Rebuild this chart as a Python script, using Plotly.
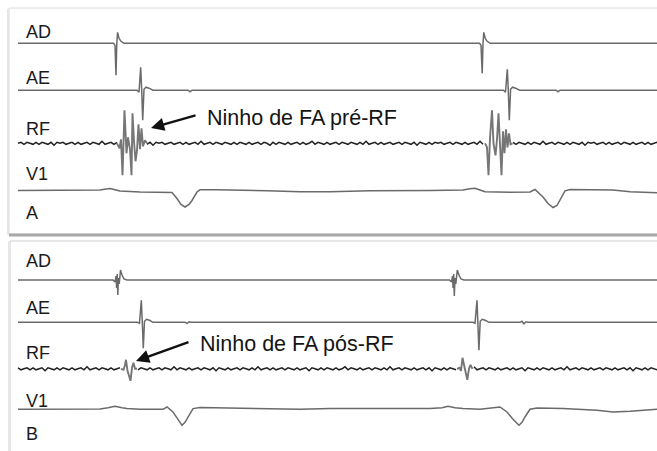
import glob
import plotly.graph_objects as go

# ---------------- DATA ----------------
# time axis: screen-time units (0..657), amplitude: deflection (up = positive)
LABELS_A = ["AD", "AE", "RF", "V1", "A"]
LABELS_B = ["AD", "AE", "RF", "V1", "B"]
NOTE_A = "Ninho de FA pré-RF"
NOTE_B = "Ninho de FA pós-RF"

# ---- Panel A (pre-RF) ----
AD_A_T = [18, 113.5, 115, 116, 116.8, 117.6, 119, 121, 124,
          479.5, 481, 482.2, 483, 483.8, 485.2, 487.2, 490.2, 657]
AD_A_V = [0, 0, -2, -32, 0, 11, 5, 2, 0,
          0, -2, -30, 0, 11, 5, 2, 0, 0]

AE_A_T = [18, 137, 139, 140.7, 141.7, 142.7, 144, 146, 149, 153, 188, 190, 192,
          503.5, 505.5, 507.3, 508.3, 509.3, 510.6, 512.6, 515.6, 519.6, 556, 558, 560, 657]
AE_A_V = [0, 0, -2, 23, 0, -30, 1, 3, 2, 0, 0, -1.5, 0,
          0, -2, 21, 0, -30, 1, 3, 2, 0, 0, -1.5, 0, 0]

RF_A_C1_T = [117, 119.5, 121, 122.5, 124.5, 126.5, 128, 130, 131.5, 132.5, 134,
             135.5, 137, 138.5, 140, 141.5, 143, 145, 147]
RF_A_C1_V = [0, -5, 4, -32, 33, -10, 6, -6, -32, 30, 2, -18, -7, 19, -6, 15, -3, 3, 0]
RF_A_C2_T = [485, 487, 488.5, 490, 492, 493.5, 495.5, 497, 498.5, 500, 501.5,
             503, 504.5, 506, 507.5, 509, 510.5, 512.5]
RF_A_C2_V = [0, -4, -32, 5, 33, 0, -12, 4, 30, -8, -32, 12, -10, 14, -4, 10, -1, 0]
RF_A_NOISE = [
    0, 1, -1, 1, 0, -1, 1, -1, 1, 0, -1, 1, -2, 1, 0, 1, -1, 0, 1, -1,
    1, -1, 0, 1, -1, 1, 0, -1, 2, -1, 0, 1, -1, 1, -1, 0, 1, 0, -1, 1,
    -1, 1, 0, -1, 1, -2, 1, 0, 1, -1, 0, 1, -1, 0, 1, -1, 1, -1, 0, 1,
    -1, 2, -1, 0, 1, -1, 1, 0, -1, 1, 0, -1, 1, -1, 1, 0, -1, 1, -1, 0,
    1, -1, 1, 0, -2, 1, -1, 1, 0, -1, 1, -1, 0, 1, -1, 1, -1, 0, 2, -1,
    1, 0, -1, 1, -1, 0, 1, -1, 1, 0, -1, 1, 0, -1, 1, -1, 2, -1, 0, 1,
    -1, 1, -1, 0, 1, -1, 0, 1, -1, 1, 0, -1, 1, -2, 1, 0, -1, 1, -1, 1,
    0, 1, -1, 0, 1, -1, 1, 0, -1, 1, -1, 0, 1, -1, 2, -1, 0, 1, -1, 1,
    0, -1, 1, -1, 0, 1, -1, 1, 0, -1, 1, -1, 1, 0, -1, 2, -1, 0, 1, -1,
    1, 0, -1, 1, -1, 1, 0, -1, 1, -2, 1, 0, 1, -1, 0, 1, -1, 1, -1, 0,
    1, -1, 1, 0, -1, 1, -1, 0, 1, -1, 1, -1, 0, 1, -1, 1, 0, -1, 1, 0]

V1_A_T = [18, 60, 100, 106, 110, 114, 120, 140, 165, 172, 177, 181, 185, 189, 192,
          197, 200, 217, 267, 300, 330, 370, 430, 463, 470, 475, 480, 485, 510, 530,
          535, 543, 548, 553, 557, 560, 565, 570, 613, 630, 657]
V1_A_V = [0, 0, 0.5, 1.5, 2, 1, -0.5, -1.5, -1.5, -2, -8, -14, -16.5, -14, -10,
          -1.5, 0.7, 0.7, -0.3, -1.3, -1.2, -0.3, 0, 0.5, 1.8, 2.3, 0.5, -1.2, -1.7, -1.5,
          1, -6.5, -13, -17, -15, -9, -0.3, 1, 0.5, -1.2, -2.3]

# ---- Panel B (post-RF) ----
AD_B_T = [18, 113, 115, 116, 116.6, 117.2, 117.8, 118.4, 119.2, 120.5, 122, 124, 127,
          449.5, 451.5, 452.5, 453.1, 453.7, 454.3, 455, 455.8, 457.3, 459, 461, 464, 657]
AD_B_V = [0, 0, -2, 4, -8, 6, -15, 2, -4, 10, 5, 1, 0,
          0, -2, 4, -8, 6, -16, 2, -4, 10, 5, 1, 0, 0]

AE_B_T = [18, 137.5, 139.5, 141.3, 142.3, 143.3, 144.5, 146.5, 149.5, 153, 185, 187, 189, 191,
          473, 475, 477, 478, 478.9, 480.2, 482.2, 485.2, 489, 520, 522, 524, 526, 528, 657]
AE_B_V = [0, 0, -1, 22, 0, -26, 1, 3, 2, 0, 0, -1, 0.5, 0,
          0, -1, 22, 0, -28, 1, 3, 2, 0, 0, 1, -1.5, 0.5, 0, 0]

RF_B_C1_T = [121, 123.5, 124.8, 126, 127.5, 129, 130.5, 132, 133.5, 135, 137]
RF_B_C1_V = [0, -1, 3, 9, -2, -8, -12, 1, 6, 0, 0]
RF_B_C2_T = [457, 459.5, 461, 462.5, 464, 465.5, 467.3, 469, 470.5, 472.5]
RF_B_C2_V = [0, 1, -2, 11, 4, -3, -11, 0, 4, 0]
RF_B_NOISE = [
    1, -1, 0, 1, -1, 1, -1, 0, 1, -2, 1, 0, -1, 1, -1, 1, 0, -1, 1, -1,
    0, 1, -1, 2, -1, 0, 1, -1, 1, 0, -1, 1, -1, 0, 1, -1, 1, 0, -2, 1,
    -1, 1, 0, -1, 1, -1, 0, 1, -1, 1, 0, -1, 2, -1, 1, 0, -1, 1, -1, 0,
    1, -1, 1, 0, -1, 1, -2, 1, 0, -1, 1, -1, 0, 1, -1, 1, 0, -1, 1, -1,
    2, -1, 0, 1, -1, 1, -1, 0, 1, -1, 1, 0, -1, 1, -1, 0, 1, -2, 1, 0,
    -1, 1, -1, 1, 0, -1, 1, -1, 0, 2, -1, 1, 0, -1, 1, -1, 0, 1, -1, 1,
    0, -1, 1, -1, 2, -1, 0, 1, -1, 1, 0, -1, 1, -1, 0, 1, -1, 1, -2, 1,
    0, -1, 1, -1, 1, 0, -1, 1, -1, 0, 1, -1, 2, -1, 0, 1, -1, 1, 0, -1,
    1, -1, 0, 1, -1, 1, -1, 0, 1, -2, 1, 0, -1, 1, -1, 1, 0, -1, 1, -1,
    0, 1, -1, 2, -1, 0, 1, -1, 1, 0, -1, 1, -1, 0, 1, -1, 1, 0, -1, 1,
    -1, 0, 1, -1, 1, -2, 1, 0, -1, 1, -1, 1, 0, -1, 1, -1, 0, 1, -1, 1]

V1_B_T = [18, 60, 100, 108, 115, 122, 127, 140, 163, 167, 173, 178, 182, 185, 188, 193,
          200, 233, 267, 300, 330, 363, 397, 430, 442, 448, 455, 463, 480, 500, 507,
          513, 519, 522, 525, 530, 537, 563, 597, 613, 630, 657]
V1_B_V = [-1, -1, -0.8, 0.5, 2, 0.5, -0.3, -1, -1, 1.3, -3.7, -11, -17, -14, -8.7, -0.3,
          0.7, 0.3, -0.3, -1, -0.3, -0.3, 0.3, -0.3, 0.5, 2, 0.5, -0.3, -1, 1.3, -3.7,
          -11, -17, -14, -8.7, -1, 0.3, -0.3, -2, -3.7, -3, -1]

# ---------------- LAYOUT / STYLE ----------------
W, H = 657, 451
BASE_A = {"AD": 43.3, "AE": 90.2, "RF": 143.3, "V1": 190.5}
BASE_B = {"AD": 280.0, "AE": 322.3, "RF": 368.8, "V1": 408.3}
LABEL_Y_A = [31.5, 77.5, 129.0, 174.0, 212.5]
LABEL_Y_B = [261.0, 307.5, 353.0, 400.5, 433.5]
NOISE_T0, NOISE_STEP = 18, 3
GRAY = "#6a6a6a"
DARK = "#222222"
SPIKE = "#767676"

narrow = bool(glob.glob("/usr/share/fonts/**/LiberationSansNarrow*", recursive=True))
NOTE_FONT = dict(family="Liberation Sans Narrow" if narrow else "Liberation Sans",
                 size=26 if narrow else 21.5, color="#151515")
LABEL_FONT = dict(family="Liberation Sans, Arial", size=18, color="#1a1a1a")

fig = go.Figure()


def add_line(t, v, base, color=GRAY, width=1.5):
    fig.add_trace(go.Scatter(x=t, y=[base - a for a in v], mode="lines",
                             line=dict(color=color, width=width),
                             hoverinfo="skip", showlegend=False))


def add_rf(noise, comps, base):
    windows = [(ct[0], ct[-1]) for ct, _ in comps]
    xs, ys = [], []
    for i, a in enumerate(noise):
        t = NOISE_T0 + NOISE_STEP * i
        if t > W + 3:
            break
        if any(w0 < t < w1 for w0, w1 in windows):
            if xs and xs[-1] is not None:
                xs.append(None)
                ys.append(None)
            continue
        xs.append(t)
        ys.append(base - a)
    fig.add_trace(go.Scatter(x=xs, y=ys, mode="lines", line=dict(color=DARK, width=1.5),
                             hoverinfo="skip", showlegend=False, connectgaps=False))
    for ct, cv in comps:
        add_line(ct, cv, base, color=SPIKE, width=1.9)


# Panel A
add_line(AD_A_T, AD_A_V, BASE_A["AD"])
add_line(AE_A_T, AE_A_V, BASE_A["AE"])
add_rf(RF_A_NOISE, [(RF_A_C1_T, RF_A_C1_V), (RF_A_C2_T, RF_A_C2_V)], BASE_A["RF"])
add_line(V1_A_T, V1_A_V, BASE_A["V1"])
# Panel B
add_line(AD_B_T, AD_B_V, BASE_B["AD"])
add_line(AE_B_T, AE_B_V, BASE_B["AE"])
add_rf(RF_B_NOISE, [(RF_B_C1_T, RF_B_C1_V), (RF_B_C2_T, RF_B_C2_V)], BASE_B["RF"])
add_line(V1_B_T, V1_B_V, BASE_B["V1"])

annotations = []
for lab, y in list(zip(LABELS_A, LABEL_Y_A)) + list(zip(LABELS_B, LABEL_Y_B)):
    annotations.append(dict(x=24, y=y, xref="x", yref="y", text=lab, showarrow=False,
                            xanchor="left", yanchor="middle", font=LABEL_FONT))
annotations.append(dict(x=205, y=117.5, xref="x", yref="y", text=NOTE_A, showarrow=False,
                        xanchor="left", yanchor="middle", font=NOTE_FONT))
annotations.append(dict(x=198, y=344.0, xref="x", yref="y", text=NOTE_B, showarrow=False,
                        xanchor="left", yanchor="middle", font=NOTE_FONT))
# arrows
annotations.append(dict(x=151, y=128, ax=197, ay=115, xref="x", yref="y", axref="x", ayref="y",
                        text="", showarrow=True, arrowhead=2, arrowsize=1.1, arrowwidth=2.4,
                        arrowcolor="#111111", standoff=0, startstandoff=0))
annotations.append(dict(x=136, y=361, ax=190, ay=341.5, xref="x", yref="y", axref="x", ayref="y",
                        text="", showarrow=True, arrowhead=2, arrowsize=1.1, arrowwidth=2.4,
                        arrowcolor="#111111", standoff=0, startstandoff=0))

shapes = [
    # panel A frame + shadow
    dict(type="rect", xref="x", yref="y", x0=9, x1=720, y0=8, y1=234,
         line=dict(color="#dcdcdc", width=1), layer="below"),
    dict(type="line", xref="x", yref="y", x0=9, x1=720, y0=235, y1=235,
         line=dict(color="#a8a8a8", width=3), layer="below"),
    dict(type="line", xref="x", yref="y", x0=8, x1=8, y0=9, y1=235,
         line=dict(color="#e6e6e6", width=2), layer="below"),
    # panel B frame
    dict(type="rect", xref="x", yref="y", x0=10, x1=720, y0=241, y1=470,
         line=dict(color="#cfcfcf", width=1), layer="below"),
    dict(type="line", xref="x", yref="y", x0=9, x1=9, y0=242, y1=470,
         line=dict(color="#e6e6e6", width=2), layer="below"),
]

fig.update_layout(
    width=W, height=H, margin=dict(l=0, r=0, t=0, b=0),
    paper_bgcolor="white", plot_bgcolor="white",
    xaxis=dict(range=[0, W], visible=False, fixedrange=True),
    yaxis=dict(range=[H, 0], visible=False, fixedrange=True),
    annotations=annotations, shapes=shapes,
)
fig.write_html("out.html", config={"displayModeBar": False},
               post_script="document.body.style.margin='0';document.body.style.overflow='hidden';")
